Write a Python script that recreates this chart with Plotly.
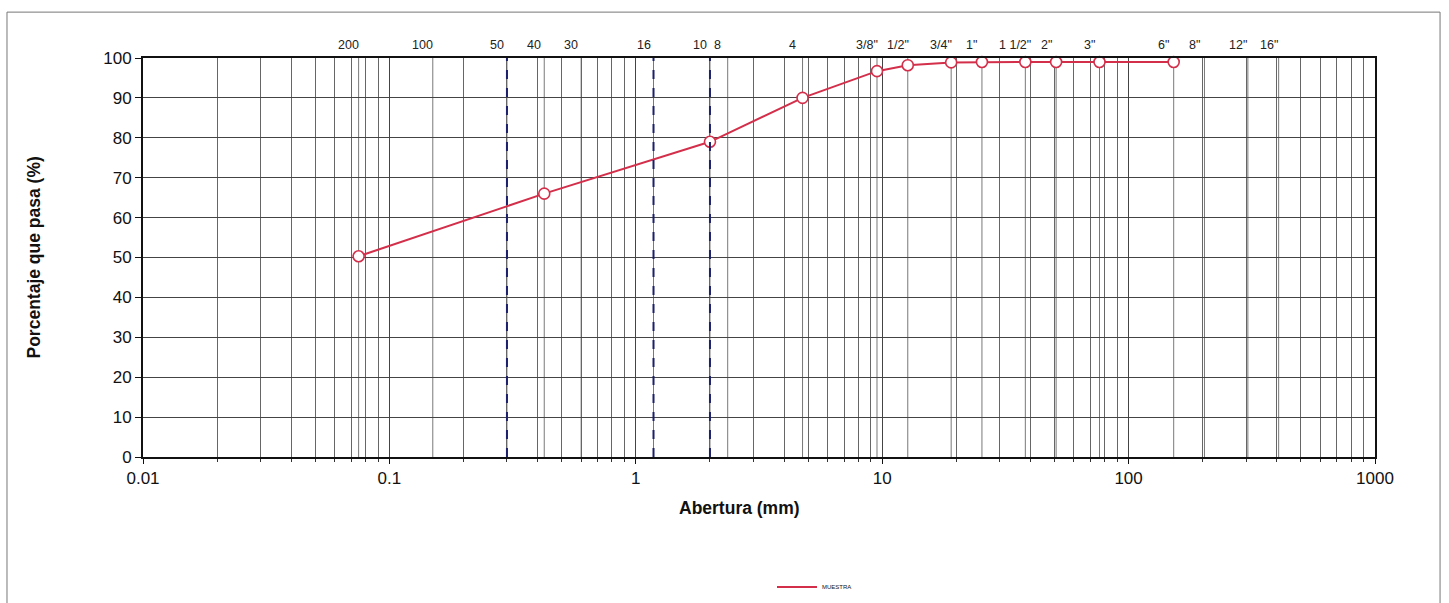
import math
import plotly.graph_objects as go

# Sieve series used for the grading chart (ASTM designations and openings in mm)
sieve_labels = ['200', '100', '50', '40', '30', '16', '10', '8', '4',
                '3/8"', '1/2"', '3/4"', '1"', '1 1/2"', '2"', '3"',
                '6"', '8"', '12"', '16"']
sieve_mm = [0.075, 0.15, 0.3, 0.425, 0.6, 1.18, 2.0, 2.36, 4.75,
            9.525, 12.7, 19.05, 25.4, 38.1, 50.8, 76.2,
            152.4, 203.2, 304.8, 406.4]

# Sieves highlighted with dashed reference lines
ref_sieves_mm = [0.3, 1.18, 2.0]

# Sample grading: opening (mm) vs. percent passing
sample_mm = [0.075, 0.425, 2.0, 4.75, 9.525, 12.7, 19.05, 25.4, 38.1, 50.8, 76.2, 152.4]
sample_pass = [50.3, 66.0, 79.0, 90.0, 96.7, 98.2, 98.9, 99.0, 99.0, 99.0, 99.0, 99.0]

x_ticks = [0.01, 0.1, 1, 10, 100, 1000]
x_tick_text = ['0.01', '0.1', '1', '10', '100', '1000']
y_ticks = [0, 10, 20, 30, 40, 50, 60, 70, 80, 90, 100]

sample_name = 'MUESTRA'

RED = '#d32f4a'
NAVY = '#1c1f6b'
FONT = 'Liberation Sans, Arial, sans-serif'

fig = go.Figure()

# Grading curve
fig.add_trace(go.Scatter(
    x=sample_mm, y=sample_pass, mode='lines+markers',
    line=dict(color=RED, width=2),
    marker=dict(symbol='circle', size=11, color='white',
                line=dict(color=RED, width=1.6)),
    showlegend=False, cliponaxis=False,
))
# Legend entry (line only)
fig.add_trace(go.Scatter(
    x=[None], y=[None], mode='lines', name=sample_name,
    line=dict(color=RED, width=2), showlegend=True,
))

shapes = []
# Thin vertical lines at every sieve opening
for s in sieve_mm:
    shapes.append(dict(type='line', xref='x', yref='paper', x0=s, x1=s, y0=0, y1=1,
                       line=dict(color='#555555', width=0.8), layer='below'))
# Dashed reference sieves
for s in ref_sieves_mm:
    shapes.append(dict(type='line', xref='x', yref='paper', x0=s, x1=s, y0=0, y1=1,
                       line=dict(color=NAVY, width=2, dash='dash'), layer='above'))
# Outer frame of the sheet
shapes.append(dict(type='rect', xref='paper', yref='paper',
                   x0=-0.1104, x1=1.0528, y0=-0.40, y1=1.115,
                   line=dict(color='#777777', width=1)))

annotations = []
# Sieve designations above the plot (annotation x on a log axis is given in log10 units)
for lab, s in zip(sieve_labels, sieve_mm):
    annotations.append(dict(x=math.log10(s), y=1.0, xref='x', yref='paper', text=lab,
                            showarrow=False, yanchor='bottom', yshift=4, xshift=-10,
                            font=dict(family=FONT, size=12.5, color='#222222')))
annotations.append(dict(x=(33 - 143) / 1232, y=0.5, xref='paper', yref='paper',
                        xanchor='center', yanchor='middle',
                        text='<b>Porcentaje que pasa (%)</b>', textangle=-90,
                        showarrow=False, font=dict(family=FONT, size=17.5, color='#111111')))
annotations.append(dict(x=(739 - 143) / 1232, y=-(508 - 457) / 399, xref='paper', yref='paper',
                        xanchor='center', yanchor='middle',
                        text='<b>Abertura (mm)</b>', showarrow=False,
                        font=dict(family=FONT, size=17.5, color='#111111')))

fig.update_layout(
    width=1449, height=603,
    margin=dict(l=143, r=74, t=58, b=146, autoexpand=False),
    paper_bgcolor='white', plot_bgcolor='white',
    font=dict(family=FONT, color='#111111'),
    shapes=shapes, annotations=annotations,
    legend=dict(x=(772 - 143) / 1232, y=-(587 - 457) / 399, xanchor='left', yanchor='middle',
                orientation='h', font=dict(size=6, family=FONT), bgcolor='rgba(0,0,0,0)',
                itemwidth=40),
)

fig.update_xaxes(
    type='log', range=[-2, 3],
    tickvals=x_ticks, ticktext=x_tick_text,
    tickfont=dict(size=17, family=FONT, color='#111111'),
    showgrid=True, gridcolor='#444444', gridwidth=1,
    minor=dict(dtick='D1', showgrid=True, gridcolor='#666666', gridwidth=0.7,
               ticks='outside', ticklen=3, tickcolor='#333333'),
    ticks='outside', ticklen=5, tickcolor='#111111',
    showline=True, linecolor='#111111', linewidth=2, mirror=True,
    zeroline=False,
)
fig.update_yaxes(
    range=[0, 100], tickvals=y_ticks,
    tickfont=dict(size=17, family=FONT, color='#111111'),
    showgrid=True, gridcolor='#444444', gridwidth=1,
    ticks='outside', ticklen=6, tickcolor='#111111',
    showline=True, linecolor='#111111', linewidth=2, mirror=True,
    zeroline=False,
)

fig.write_html('out.html')
